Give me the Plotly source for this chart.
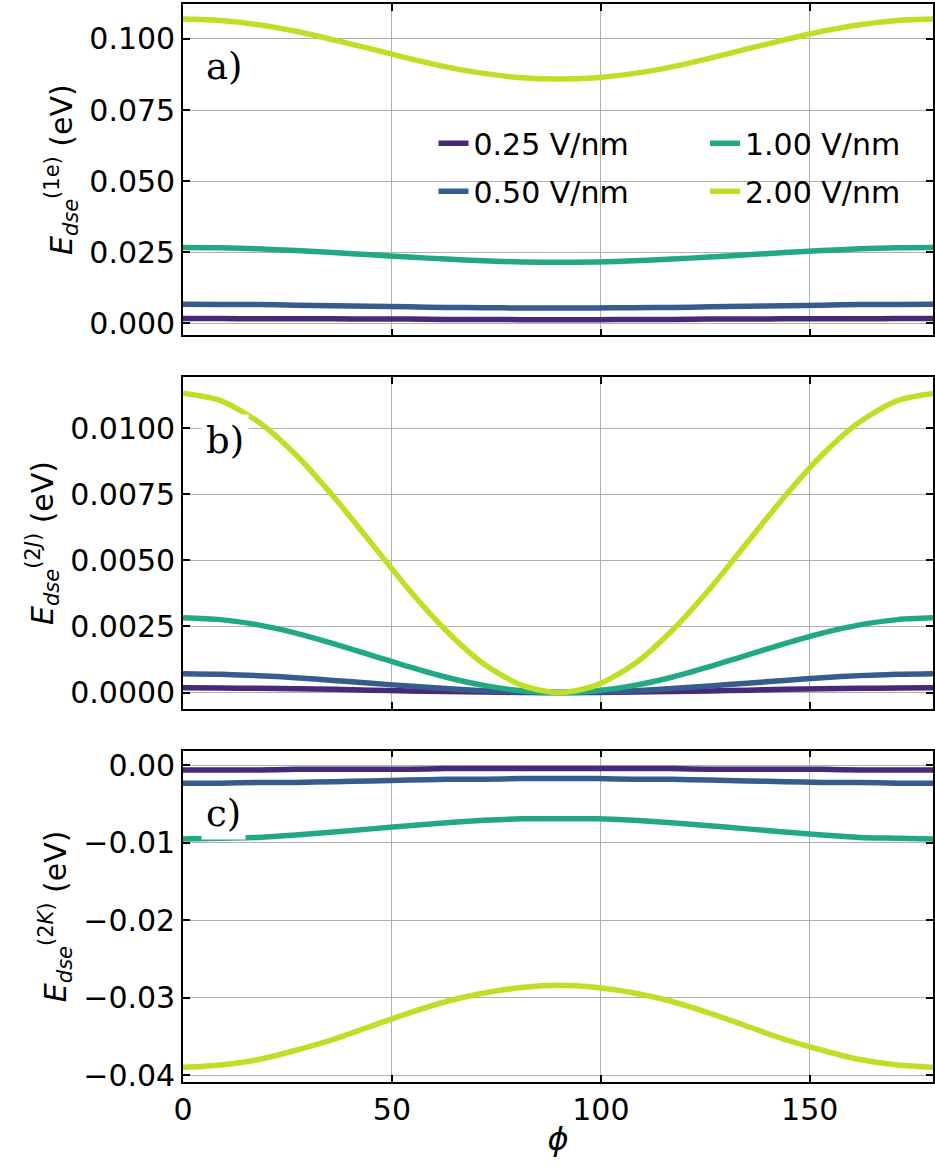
import plotly.graph_objects as go
from plotly.subplots import make_subplots

# ---------------- data ----------------
phi = [0, 9, 18, 27, 36, 45, 54, 63, 72, 81, 90, 99, 108, 117, 126, 135, 144, 153, 162, 171, 180]

field_labels = ["0.25 V/nm", "0.50 V/nm", "1.00 V/nm", "2.00 V/nm"]
colors = ["#482878", "#365c8d", "#22a884", "#bddf26"]

# panel a) E_dse^(1e)
a_025 = [0.0017, 0.0017, 0.0016, 0.0016, 0.0016, 0.0015, 0.0015, 0.0014, 0.0014, 0.0013, 0.0013,
         0.0013, 0.0014, 0.0014, 0.0015, 0.0015, 0.0016, 0.0016, 0.0016, 0.0017, 0.0017]
a_050 = [0.0067, 0.0066, 0.0066, 0.0064, 0.0062, 0.0060, 0.0058, 0.0056, 0.0055, 0.0054, 0.0054,
         0.0054, 0.0055, 0.0056, 0.0058, 0.0060, 0.0062, 0.0064, 0.0066, 0.0066, 0.0067]
a_100 = [0.0267, 0.0266, 0.0262, 0.0256, 0.0249, 0.0241, 0.0233, 0.0226, 0.0220, 0.0216, 0.0215,
         0.0216, 0.0220, 0.0226, 0.0233, 0.0241, 0.0249, 0.0256, 0.0262, 0.0266, 0.0267]
a_200 = [0.1070, 0.1065, 0.1050, 0.1027, 0.0997, 0.0965, 0.0932, 0.0902, 0.0879, 0.0864, 0.0859,
         0.0864, 0.0879, 0.0902, 0.0932, 0.0965, 0.0997, 0.1027, 0.1050, 0.1065, 0.1070]

# panel b) E_dse^(2J)
b_025 = [0.00018, 0.00017, 0.00016, 0.00014, 0.00012, 0.00009, 0.00006, 0.00004, 0.00002, 0.00000, 0.0,
         0.00000, 0.00002, 0.00004, 0.00006, 0.00009, 0.00012, 0.00014, 0.00016, 0.00017, 0.00018]
b_050 = [0.00071, 0.00069, 0.00064, 0.00056, 0.00046, 0.00035, 0.00025, 0.00015, 0.00007, 0.00002, 0.0,
         0.00002, 0.00007, 0.00015, 0.00025, 0.00035, 0.00046, 0.00056, 0.00064, 0.00069, 0.00071]
b_100 = [0.00283, 0.00276, 0.00256, 0.00225, 0.00185, 0.00142, 0.00098, 0.00058, 0.00027, 0.00007, 0.0,
         0.00007, 0.00027, 0.00058, 0.00098, 0.00142, 0.00185, 0.00225, 0.00256, 0.00276, 0.00283]
b_200 = [0.01133, 0.01105, 0.01025, 0.00900, 0.00742, 0.00567, 0.00391, 0.00234, 0.00108, 0.00028, 0.0,
         0.00028, 0.00108, 0.00234, 0.00391, 0.00567, 0.00742, 0.00900, 0.01025, 0.01105, 0.01133]

# panel c) E_dse^(2K)
c_025 = [-0.0006, -0.0006, -0.0006, -0.0005, -0.0005, -0.0005, -0.0005, -0.0004, -0.0004, -0.0004, -0.0004,
         -0.0004, -0.0004, -0.0004, -0.0005, -0.0005, -0.0005, -0.0005, -0.0006, -0.0006, -0.0006]
c_050 = [-0.0023, -0.0023, -0.0022, -0.0022, -0.0021, -0.0020, -0.0019, -0.0018, -0.0018, -0.0017, -0.0017,
         -0.0017, -0.0018, -0.0018, -0.0019, -0.0020, -0.0021, -0.0022, -0.0022, -0.0023, -0.0023]
c_100 = [-0.0095, -0.0094, -0.0093, -0.0090, -0.0086, -0.0082, -0.0078, -0.0074, -0.0071, -0.0069, -0.0069,
         -0.0069, -0.0071, -0.0074, -0.0078, -0.0082, -0.0086, -0.0090, -0.0093, -0.0094, -0.0095]
c_200 = [-0.0390, -0.0387, -0.0380, -0.0368, -0.0354, -0.0337, -0.0320, -0.0305, -0.0294, -0.0287, -0.0284,
         -0.0287, -0.0294, -0.0305, -0.0320, -0.0337, -0.0354, -0.0368, -0.0380, -0.0387, -0.0390]

panels = [
    [a_025, a_050, a_100, a_200],
    [b_025, b_050, b_100, b_200],
    [c_025, c_050, c_100, c_200],
]
panel_tags = ["a)", "b)", "c)"]
y_titles = [
    "<i>E</i><sub><i>dse</i></sub><sup>(1e)</sup> (eV)",
    "<i>E</i><sub><i>dse</i></sub><sup>(2<i>J</i>)</sup> (eV)",
    "<i>E</i><sub><i>dse</i></sub><sup>(2<i>K</i>)</sup> (eV)",
]
y_ranges = [[-0.0042, 0.1123], [-0.00061, 0.01193], [-0.0409, 0.0019]]
y_dticks = [0.025, 0.0025, 0.01]
y_formats = [".3f", ".4f", ".2f"]

# ---------------- figure ----------------
W, H = 935, 1166
fig = make_subplots(rows=3, cols=1, shared_xaxes=True, vertical_spacing=0.039)

legend_for = {0: "legend", 1: "legend", 2: "legend2", 3: "legend2"}
for r, series in enumerate(panels):
    for k, ys in enumerate(series):
        fig.add_trace(
            go.Scatter(
                x=phi, y=ys, mode="lines",
                line=dict(color=colors[k], width=5.5, shape="spline", smoothing=0.8),
                name=field_labels[k],
                legendgroup=field_labels[k],
                showlegend=(r == 0),
                legend=legend_for[k],
            ),
            row=r + 1, col=1,
        )

tick_font = dict(family="DejaVu Sans", size=30, color="black")
axis_common = dict(
    showline=True, linecolor="black", linewidth=1.6, mirror="ticks",
    ticks="inside", ticklen=7, tickwidth=1.5, tickcolor="black",
    showgrid=True, gridcolor="#b0b0b0", gridwidth=1.2,
    zeroline=False, tickfont=tick_font,
)

for r in range(3):
    fig.update_yaxes(
        range=y_ranges[r], dtick=y_dticks[r], tickformat=y_formats[r], tick0=0,
        title=dict(text=y_titles[r], font=dict(family="DejaVu Sans", size=30, color="black"), standoff=8),
        row=r + 1, col=1, **axis_common,
    )
    fig.update_xaxes(
        range=[0, 179.5], dtick=50, tick0=0, showticklabels=(r == 2),
        row=r + 1, col=1, **axis_common,
    )
    xref = "x domain" if r == 0 else f"x{r + 1} domain"
    yref = "y domain" if r == 0 else f"y{r + 1} domain"
    fig.add_annotation(
        text=panel_tags[r], xref=xref, yref=yref, x=0.024, y=0.81,
        xanchor="left", yanchor="middle", showarrow=False,
        font=dict(family="DejaVu Serif", size=37, color="black"),
        bgcolor="white", borderpad=4,
    )

fig.update_xaxes(
    title=dict(text="<i>ϕ</i>", font=dict(family="DejaVu Sans", size=32, color="black"), standoff=2),
    row=3, col=1,
)

legend_style = dict(
    orientation="v", bgcolor="rgba(0,0,0,0)", borderwidth=0,
    font=dict(family="DejaVu Sans", size=30, color="black"),
    xanchor="left", yanchor="top", tracegroupgap=6,
)

fig.update_layout(
    width=W, height=H,
    margin=dict(l=183, r=0, t=4, b=84),
    paper_bgcolor="white", plot_bgcolor="white",
    font=dict(family="DejaVu Sans", color="black"),
    legend=dict(x=0.334, y=0.895, **legend_style),
    legend2=dict(x=0.696, y=0.895, **legend_style),
)

fig.write_html("out.html")
